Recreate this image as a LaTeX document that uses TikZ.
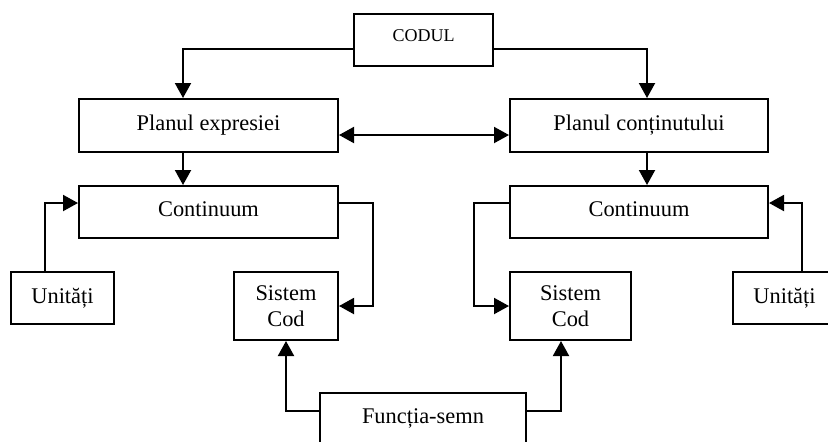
\documentclass[tikz,border=0pt]{standalone}
\usepackage{fontspec}
\setmainfont{Liberation Serif}
\usetikzlibrary{arrows.meta}
\begin{document}
\begin{tikzpicture}[x=0.5pt,y=-0.5pt,
  box/.style={draw,line width=1pt,inner sep=0pt,align=center,
    font=\fontsize{11.2}{13.3}\selectfont},
  arr/.style={line width=1pt,-{Triangle[length=7.5pt,width=8pt]}},
  arrtwo/.style={line width=1pt,{Triangle[length=7.5pt,width=8pt]}-{Triangle[length=7.5pt,width=8pt]}}]
\useasboundingbox (0,0) rectangle (828,441);
\clip (0,0) rectangle (828,441);
\node[box,minimum width=69.5pt,minimum height=26pt,font=\fontsize{9}{11}\selectfont] (codul) at (423.5,40) {\raisebox{4pt}{CODUL}};
\node[box,minimum width=129.5pt,minimum height=26.5pt] (pe) at (208.5,125.5) {\raisebox{1.75pt}{Planul expresiei}};
\node[box,minimum width=129pt,minimum height=26.5pt] (pc) at (639,125.5) {\raisebox{1.75pt}{Planul conținutului}};
\node[box,minimum width=129.5pt,minimum height=26pt] (cl) at (208.5,212) {\raisebox{2.5pt}{Continuum}};
\node[box,minimum width=129pt,minimum height=26pt] (cr) at (639,212) {\raisebox{2.5pt}{Continuum}};
\node[box,minimum width=51.5pt,minimum height=26pt] (ul) at (62.5,298) {\raisebox{1.75pt}{Unități}};
\node[box,minimum width=51.5pt,minimum height=26pt] (ur) at (784.5,298) {\raisebox{1.75pt}{Unități}};
\node[box,minimum width=52pt,minimum height=34pt] (sl) at (286,306) {Sistem\\Cod};
\node[box,minimum width=60.5pt,minimum height=34pt] (sr) at (570.5,306) {Sistem\\Cod};
\node[box,minimum width=103pt,minimum height=26pt] (fs) at (423,419) {\raisebox{3.25pt}{Funcția-semn}};
% connectors
\draw[arr] ([yshift=-4.5pt]codul.west) -| ([xshift=-12.75pt]pe.north);
\draw[arr] ([yshift=-4.5pt]codul.east) -| ([xshift=4pt]pc.north);
\draw[arrtwo] ([yshift=-4.75pt]pe.east) -- ([yshift=-4.75pt]pc.west);
\draw[arr] ([xshift=-12.75pt]pe.south) -- ([xshift=-12.75pt]cl.north);
\draw[arr] ([xshift=4pt]pc.south) -- ([xshift=4pt]cr.north);
\draw[arr] ([xshift=-8.75pt]ul.north) |- ([yshift=4.5pt]cl.west);
\draw[arr] ([yshift=4.5pt]cl.east) -- ++(34,0) |- (sl.east);
\draw[arr] ([yshift=4.5pt]cr.west) -- ++(-35,0) |- (sr.west);
\draw[arr] ([xshift=8.75pt]ur.north) |- ([yshift=4.5pt]cr.east);
\draw[arr] ([yshift=4pt]fs.west) -| (sl.south);
\draw[arr] ([yshift=4pt]fs.east) -| ([xshift=-4.75pt]sr.south);
\end{tikzpicture}
\end{document}
